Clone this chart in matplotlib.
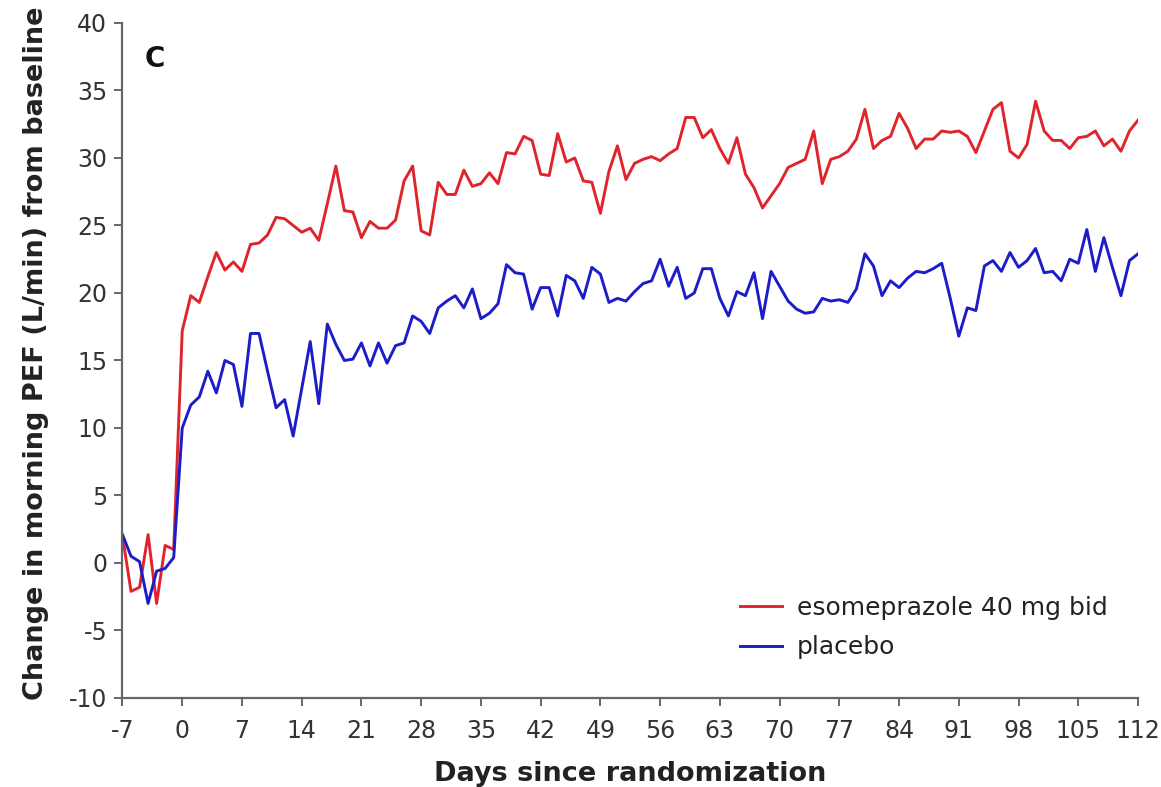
import numpy as np
import matplotlib
matplotlib.use("Agg")
import matplotlib.pyplot as plt

plt.rcParams['font.family'] = ['DejaVu Sans']
plt.rcParams['axes.unicode_minus'] = False

# dias desde la aleatorizacion (-7 .. 112)
days = list(range(-7, 113))

# cambio del PEF matutino, esomeprazol 40 mg bid
esomeprazole = [
    2.0, -2.1, -1.8, 2.1, -3.0, 1.3, 1.0,                 # -7 .. -1
    17.2, 19.8, 19.3, 21.2, 23.0, 21.7, 22.3, 21.6, 23.6, 23.7,   # 0 .. 9
    24.3, 25.6, 25.5, 25.0, 24.5, 24.8, 23.9, 26.6, 29.4, 26.1,   # 10 .. 19
    26.0, 24.1, 25.3, 24.8, 24.8, 25.4, 28.3, 29.4, 24.6, 24.3,   # 20 .. 29
    28.2, 27.3, 27.3, 29.1, 27.9, 28.1, 28.9, 28.1, 30.4, 30.3,   # 30 .. 39
    31.6, 31.3, 28.8, 28.7, 31.8, 29.7, 30.0, 28.3, 28.2, 25.9,   # 40 .. 49
    29.0, 30.9, 28.4, 29.6, 29.9, 30.1, 29.8, 30.3, 30.7, 33.0,   # 50 .. 59
    33.0, 31.5, 32.1, 30.7, 29.6, 31.5, 28.8, 27.8, 26.3, 27.2,   # 60 .. 69
    28.1, 29.3, 29.6, 29.9, 32.0, 28.1, 29.9, 30.1, 30.5, 31.4,   # 70 .. 79
    33.6, 30.7, 31.3, 31.6, 33.3, 32.2, 30.7, 31.4, 31.4, 32.0,   # 80 .. 89
    31.9, 32.0, 31.6, 30.4, 32.0, 33.6, 34.1, 30.5, 30.0, 31.0,   # 90 .. 99
    34.2, 32.0, 31.3, 31.3, 30.7, 31.5, 31.6, 32.0, 30.9, 31.4,   # 100 .. 109
    30.5, 32.0, 32.8,                                             # 110 .. 112
]

# cambio del PEF matutino, placebo
placebo = [
    2.1, 0.5, 0.1, -3.0, -0.6, -0.4, 0.4,                 # -7 .. -1
    10.0, 11.7, 12.3, 14.2, 12.6, 15.0, 14.7, 11.6, 17.0, 17.0,   # 0 .. 9
    14.2, 11.5, 12.1, 9.4, 12.9, 16.4, 11.8, 17.7, 16.2, 15.0,    # 10 .. 19
    15.1, 16.3, 14.6, 16.3, 14.8, 16.1, 16.3, 18.3, 17.9, 17.0,   # 20 .. 29
    18.9, 19.4, 19.8, 18.9, 20.3, 18.1, 18.5, 19.2, 22.1, 21.5,   # 30 .. 39
    21.4, 18.8, 20.4, 20.4, 18.3, 21.3, 20.9, 19.6, 21.9, 21.4,   # 40 .. 49
    19.3, 19.6, 19.4, 20.1, 20.7, 20.9, 22.5, 20.5, 21.9, 19.6,   # 50 .. 59
    20.0, 21.8, 21.8, 19.6, 18.3, 20.1, 19.8, 21.5, 18.1, 21.6,   # 60 .. 69
    20.5, 19.4, 18.8, 18.5, 18.6, 19.6, 19.4, 19.5, 19.3, 20.3,   # 70 .. 79
    22.9, 22.0, 19.8, 20.9, 20.4, 21.1, 21.6, 21.5, 21.8, 22.2,   # 80 .. 89
    19.6, 16.8, 18.9, 18.7, 22.0, 22.4, 21.6, 23.0, 21.9, 22.4,   # 90 .. 99
    23.3, 21.5, 21.6, 20.9, 22.5, 22.2, 24.7, 21.6, 24.1, 21.9,   # 100 .. 109
    19.8, 22.4, 22.9,                                             # 110 .. 112
]

x_ticks = list(range(-7, 113, 7))
y_ticks = list(range(-10, 41, 5))

fig = plt.figure(figsize=(11.61, 7.87), dpi=100)
ax = fig.add_axes([0.1055, 0.1131, 0.8747, 0.8577])

ax.plot(days, esomeprazole, color='#e0242c', lw=2.1, label='esomeprazole 40 mg bid')
ax.plot(days, placebo, color='#1c1cc8', lw=2.1, label='placebo')

ax.set_xlim(-7, 112)
ax.set_ylim(-10, 40)
ax.set_xticks(x_ticks)
ax.set_yticks(y_ticks)

for s in ['top', 'right']:
    ax.spines[s].set_visible(False)
for s in ['left', 'bottom']:
    ax.spines[s].set_color('#666666')
    ax.spines[s].set_linewidth(1.6)

ax.tick_params(axis='both', direction='out', length=6, width=1.4,
               color='#666666', labelcolor='#333333', labelsize=17)
ax.tick_params(axis='x', pad=9)
ax.tick_params(axis='y', pad=5)

ax.set_xlabel('Days since randomization', fontsize=19.5, fontweight='bold', color='#222222')
ax.set_ylabel('Change in morning PEF (L/min) from baseline', fontsize=19.5,
              fontweight='bold', color='#222222')
ax.xaxis.set_label_coords(0.5, -0.093)
ax.yaxis.set_label_coords(-0.072, 0.51)

ax.text(0.022, 0.968, 'C', transform=ax.transAxes, fontsize=20, fontweight='bold',
        ha='left', va='top', color='#111111')

leg = ax.legend(loc='upper left', bbox_to_anchor=(0.637, 0.243),
                bbox_transform=fig.transFigure, frameon=False, fontsize=18,
                handlelength=1.7, handletextpad=0.6, labelspacing=0.62,
                borderpad=0, borderaxespad=0)
for t in leg.get_texts():
    t.set_color('#222222')

fig.savefig('out.png', dpi=100)
